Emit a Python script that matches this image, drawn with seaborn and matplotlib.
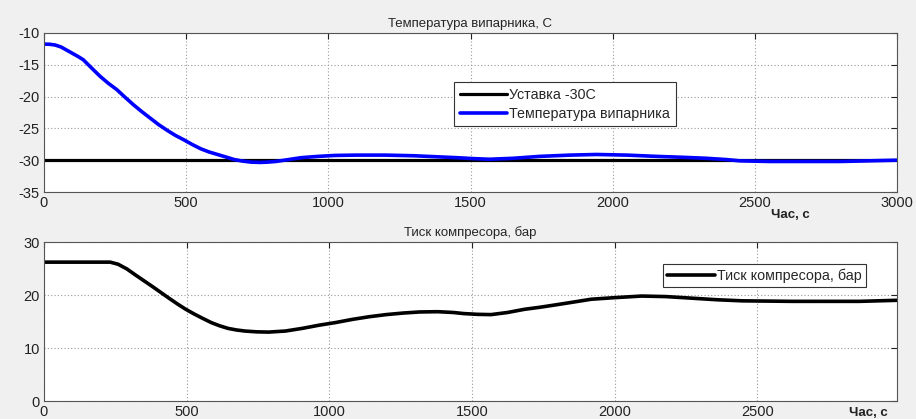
import numpy as np
import pandas as pd
import seaborn as sns
import matplotlib
matplotlib.use("Agg")
import matplotlib.pyplot as plt

# --- data ---
t_temp = [0, 20, 40, 60, 80, 100, 120, 138, 165, 197, 226, 256, 285, 315, 345, 374,
          403, 433, 462, 492, 520, 551, 580, 610, 640, 669, 700, 728, 760, 787, 815,
          846, 875, 905, 964, 1024, 1100, 1200, 1300, 1400, 1450, 1510, 1567, 1650,
          1743, 1850, 1943, 2050, 2154, 2250, 2330, 2400, 2447, 2550, 2623, 2700,
          2800, 2900, 3000]
temp = [-11.75, -11.77, -11.9, -12.2, -12.7, -13.2, -13.7, -14.2, -15.4, -16.8, -17.9,
        -18.9, -20.1, -21.3, -22.4, -23.4, -24.4, -25.3, -26.1, -26.8, -27.5, -28.2,
        -28.7, -29.1, -29.5, -29.9, -30.15, -30.3, -30.35, -30.3, -30.2, -30.0, -29.8,
        -29.6, -29.4, -29.25, -29.2, -29.2, -29.3, -29.5, -29.6, -29.75, -29.85, -29.7,
        -29.4, -29.2, -29.1, -29.2, -29.4, -29.55, -29.7, -29.9, -30.1, -30.2, -30.2,
        -30.2, -30.2, -30.1, -30.0]
t_set = [0, 3000]
setpoint = [-30, -30]

t_pres = [0, 100, 232, 260, 291, 320, 350, 380, 409, 438, 468, 497, 527, 556, 586,
          615, 645, 675, 704, 745, 787, 846, 905, 964, 1022, 1081, 1140, 1199, 1260,
          1317, 1380, 1435, 1470, 1520, 1567, 1625, 1684, 1740, 1801, 1860, 1918,
          2000, 2095, 2180, 2271, 2360, 2447, 2623, 2858, 2990]
pres = [26.2, 26.2, 26.2, 25.8, 24.9, 23.8, 22.7, 21.6, 20.5, 19.4, 18.3, 17.3, 16.4,
        15.6, 14.8, 14.2, 13.7, 13.4, 13.2, 13.05, 13.0, 13.2, 13.7, 14.3, 14.8, 15.4,
        15.9, 16.3, 16.6, 16.8, 16.85, 16.7, 16.5, 16.35, 16.3, 16.7, 17.3, 17.7,
        18.2, 18.7, 19.2, 19.5, 19.8, 19.7, 19.4, 19.1, 18.9, 18.8, 18.8, 19.0]

title_top = "Температура випарника, С"
title_bot = "Тиск компресора, бар"
lbl_set = "Уставка -30С"
lbl_temp = "Температура випарника"
lbl_pres = "Тиск компресора, бар"
xlabel = "Час, с"

sns.set_style("white")
plt.rcParams['font.family'] = ['Liberation Sans', 'DejaVu Sans']
plt.rcParams['axes.unicode_minus'] = False

fig = plt.figure(figsize=(9.16, 4.19), dpi=100, facecolor="#f0f0f0")
W, H = 916, 419
ax1 = fig.add_axes([44 / W, 1 - 192 / H, (897 - 44) / W, 159 / H])
ax2 = fig.add_axes([44 / W, 1 - 401 / H, (897 - 44) / W, 159 / H])

df_set = pd.DataFrame({"t": t_set, "v": setpoint})
df_temp = pd.DataFrame({"t": t_temp, "v": temp})
df_pres = pd.DataFrame({"t": t_pres, "v": pres})

sns.lineplot(data=df_set, x="t", y="v", ax=ax1, color="black", lw=2.3, label=lbl_set)
sns.lineplot(data=df_temp, x="t", y="v", ax=ax1, color="#0000ff", lw=2.6, label=lbl_temp)
sns.lineplot(data=df_pres, x="t", y="v", ax=ax2, color="black", lw=2.6, label=lbl_pres)

ax1.set_xlim(0, 3000)
ax1.set_ylim(-35, -10)
ax1.set_xticks([0, 500, 1000, 1500, 2000, 2500, 3000])
ax1.set_yticks([-35, -30, -25, -20, -15, -10])
ax2.set_xlim(0, 2990)
ax2.set_ylim(0, 30)
ax2.set_xticks([0, 500, 1000, 1500, 2000, 2500])
ax2.set_yticks([0, 10, 20, 30])

for ax in (ax1, ax2):
    ax.set_facecolor("white")
    ax.set_xlabel("")
    ax.set_ylabel("")
    ax.grid(True, color="#9a9a9a", linestyle=(0, (1, 2)), linewidth=0.8)
    ax.tick_params(direction="in", length=4, width=0.8, top=True, right=True,
                   labelsize=10.5, colors="#222222", pad=3)
    for s in ax.spines.values():
        s.set_color("#555555")
        s.set_linewidth(0.8)
    ax.set_axisbelow(True)

ax1.set_title(title_top, fontsize=9.5, pad=4)
ax2.set_title(title_bot, fontsize=9.5, pad=4)

fig.text(790 / W, 1 - 215 / H, xlabel, fontsize=9.5, weight="bold", ha="center", va="center",
         color="#222222")
fig.text(868 / W, 1 - 413 / H, xlabel, fontsize=9.5, weight="bold", ha="center", va="center",
         color="#222222")

leg1 = ax1.legend(loc="upper left", bbox_to_anchor=(454 / W, 1 - 82 / H),
                  bbox_transform=fig.transFigure, fontsize=10.3, frameon=True,
                  fancybox=False, framealpha=1, edgecolor="#333333",
                  handlelength=3.3, handletextpad=0.15, borderpad=0.4, labelspacing=0.35,
                  borderaxespad=0)
leg1.get_frame().set_linewidth(0.8)
leg2 = ax2.legend(loc="upper left", bbox_to_anchor=(663 / W, 1 - 264 / H),
                  bbox_transform=fig.transFigure, fontsize=10.3, frameon=True,
                  fancybox=False, framealpha=1, edgecolor="#333333",
                  handlelength=3.3, handletextpad=0.15, borderpad=0.3,
                  borderaxespad=0)
leg2.get_frame().set_linewidth(0.8)

fig.savefig("out.png", dpi=100, facecolor=fig.get_facecolor())
